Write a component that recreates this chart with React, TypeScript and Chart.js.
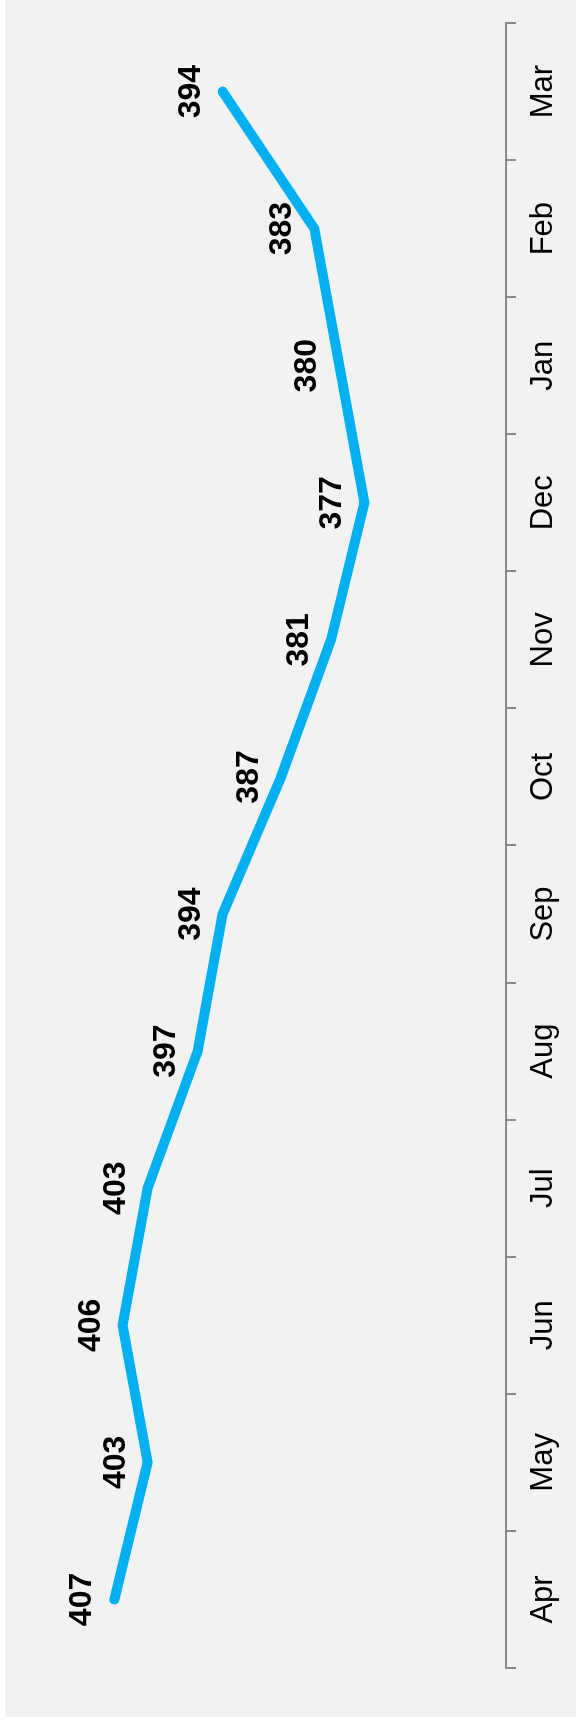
import React, { useEffect, useRef } from "react";
import { Chart, registerables } from "chart.js";

Chart.register(...registerables);

const months = ["Apr", "May", "Jun", "Jul", "Aug", "Sep", "Oct", "Nov", "Dec", "Jan", "Feb", "Mar"];
const values = [407, 403, 406, 403, 397, 394, 387, 381, 377, 380, 383, 394];
const yMin = 360;
const yMax = 420;

const FONT = "'Liberation Sans', Arial, Helvetica, sans-serif";

const valueLabels = {
  id: "valueLabels",
  afterDatasetsDraw(chart: any) {
    const ctx = chart.ctx;
    const meta = chart.getDatasetMeta(0);
    const data = chart.data.datasets[0].data as number[];
    ctx.save();
    ctx.font = `bold 32px ${FONT}`;
    ctx.fillStyle = "#000000";
    ctx.textAlign = "center";
    ctx.textBaseline = "alphabetic";
    meta.data.forEach((pt: any, i: number) => {
      ctx.fillText(String(data[i]), pt.x, pt.y - 23);
    });
    ctx.restore();
  },
};

export default function App() {
  const ref = useRef<HTMLCanvasElement | null>(null);

  useEffect(() => {
    if (!ref.current) return;
    const chart = new Chart(ref.current, {
      type: "line",
      data: {
        labels: months,
        datasets: [
          {
            data: values,
            borderColor: "#00b0f0",
            borderWidth: 10,
            borderCapStyle: "round",
            borderJoinStyle: "miter",
            pointRadius: 0,
            pointHoverRadius: 0,
            fill: false,
            tension: 0,
          },
        ],
      },
      options: {
        animation: false,
        responsive: false,
        maintainAspectRatio: false,
        devicePixelRatio: 1,
        layout: { padding: { left: 55, right: 23, top: 6, bottom: 0 } },
        plugins: {
          legend: { display: false },
          tooltip: { enabled: false },
          title: { display: false },
        },
        scales: {
          x: {
            type: "category",
            offset: true,
            afterFit: (scale: any) => {
              scale.height = 70;
            },
            grid: {
              display: true,
              offset: true,
              drawOnChartArea: false,
              drawTicks: true,
              tickLength: 10,
              color: "#898989",
              lineWidth: 2,
            },
            border: { display: true, color: "#898989", width: 2 },
            ticks: {
              color: "#000000",
              font: { family: FONT, size: 31 },
              padding: 9,
              maxRotation: 0,
              minRotation: 0,
              autoSkip: false,
            },
          },
          y: {
            display: false,
            min: yMin,
            max: yMax,
          },
        },
      },
      plugins: [valueLabels],
    });
    return () => chart.destroy();
  }, []);

  return (
    <div style={{ position: "absolute", left: 0, top: 0, width: 576, height: 1723, background: "#ffffff" }}>
      <div style={{ position: "absolute", left: 5, top: 0, width: 571, height: 1717, background: "#f2f2f2" }} />
      <div
        style={{
          position: "absolute",
          left: 0,
          top: 0,
          width: 1723,
          height: 576,
          transformOrigin: "0 0",
          transform: "translateY(1723px) rotate(-90deg)",
        }}
      >
        <canvas ref={ref} width={1723} height={576} style={{ width: 1723, height: 576, display: "block" }} />
      </div>
    </div>
  );
}
